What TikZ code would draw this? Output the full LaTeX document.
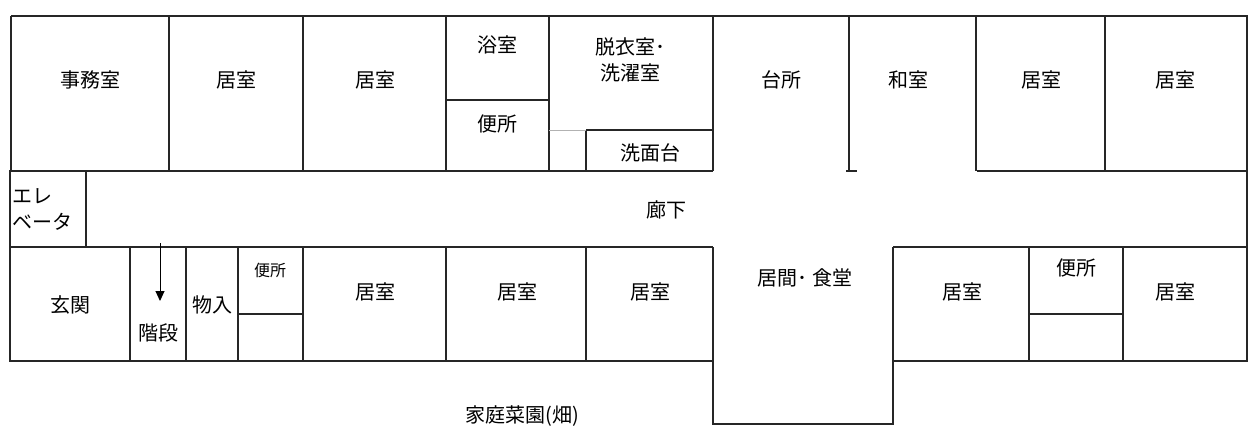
\documentclass[tikz,border=0pt]{standalone}
\usepackage{fontspec}
\newfontfamily\jp{Noto Sans CJK JP}
\usetikzlibrary{arrows.meta}
\begin{document}
\begin{tikzpicture}[x=1pt,y=-1pt,line width=1.3pt,
  lbl/.style={font=\jp\fontsize{20}{26}\selectfont,inner sep=0pt},
  wall/.style={draw=black!85}]
\useasboundingbox (0,0) rectangle (1255,440);
% outer walls
\draw[wall] (11,16) -- (1247,16) -- (1247,361) -- (893,361) -- (893,424) -- (713,424) -- (713,361) -- (10,361) -- (10,171) -- (11,171) -- (11,16);
% corridor lines
\draw[wall] (11,171) -- (713,171);
\draw[wall] (977,171) -- (1247,171);
\draw[wall] (846,171) -- (857,171);
\draw[wall] (10,247) -- (713,247);
\draw[wall] (893,247) -- (1247,247);
% top verticals
\foreach \x in {169,303,446,549,976,1105} \draw[wall] (\x,16) -- (\x,171);
\draw[wall] (713,16) -- (713,171);
\draw[wall] (849,16) -- (849,171);
\draw[wall] (446,100) -- (549,100);
\draw[wall] (586,130) -- (713,130);
\draw[wall] (586,130) -- (586,171);
\draw[black!30,line width=0.8pt] (549,130) -- (586,130);
% elevator
\draw[wall] (86,171) -- (86,247);
% bottom verticals
\foreach \x in {130,186,238,303,446,586,1029,1123} \draw[wall] (\x,247) -- (\x,361);
\draw[wall] (713,247) -- (713,361);
\draw[wall] (893,247) -- (893,361);
\draw[wall] (238,314) -- (303,314);
\draw[wall] (1029,314) -- (1123,314);
% stair arrow
\draw[line width=1pt,-{Triangle[width=9pt,length=10pt]}] (160,243) -- (160,301);
% labels
\node[lbl] (a1) at (90,80) {事務室};
\node[lbl] (a2) at (236,80) {居室};
\node[lbl] (a3) at (375,80) {居室};
\node[lbl] (a4) at (497,45) {浴室};
\node[lbl] (a5) at (497,124) {便所};
\node[lbl,align=center] (a6) at (630,60) {脱衣室･\\洗濯室};
\node[lbl] (a7) at (650,153) {洗面台};
\node[lbl] (a8) at (781,80) {台所};
\node[lbl] (a9) at (908,80) {和室};
\node[lbl] (a10) at (1041,80) {居室};
\node[lbl] (a11) at (1175,80) {居室};
\node[lbl,anchor=west,align=left] (a12) at (12,209) {エレ\\ベータ};
\node[lbl] (a13) at (666,210) {廊下};
\node[lbl] (b1) at (70,305) {玄関};
\node[lbl] (b2) at (158,333) {階段};
\node[lbl] (b3) at (212,305) {物入};
\node[lbl,font=\jp\fontsize{16}{18}\selectfont] (b4) at (270,270) {便所};
\node[lbl] (b5) at (375,292) {居室};
\node[lbl] (b6) at (517,292) {居室};
\node[lbl] (b7) at (650,292) {居室};
\node[lbl] (b8) at (805,278) {居間･ 食堂};
\node[lbl] (b9) at (962,292) {居室};
\node[lbl] (b10) at (1076,268) {便所};
\node[lbl] (b11) at (1175,292) {居室};
\node[lbl] (c1) at (522,416) {家庭菜園(畑)};
\end{tikzpicture}
\end{document}
